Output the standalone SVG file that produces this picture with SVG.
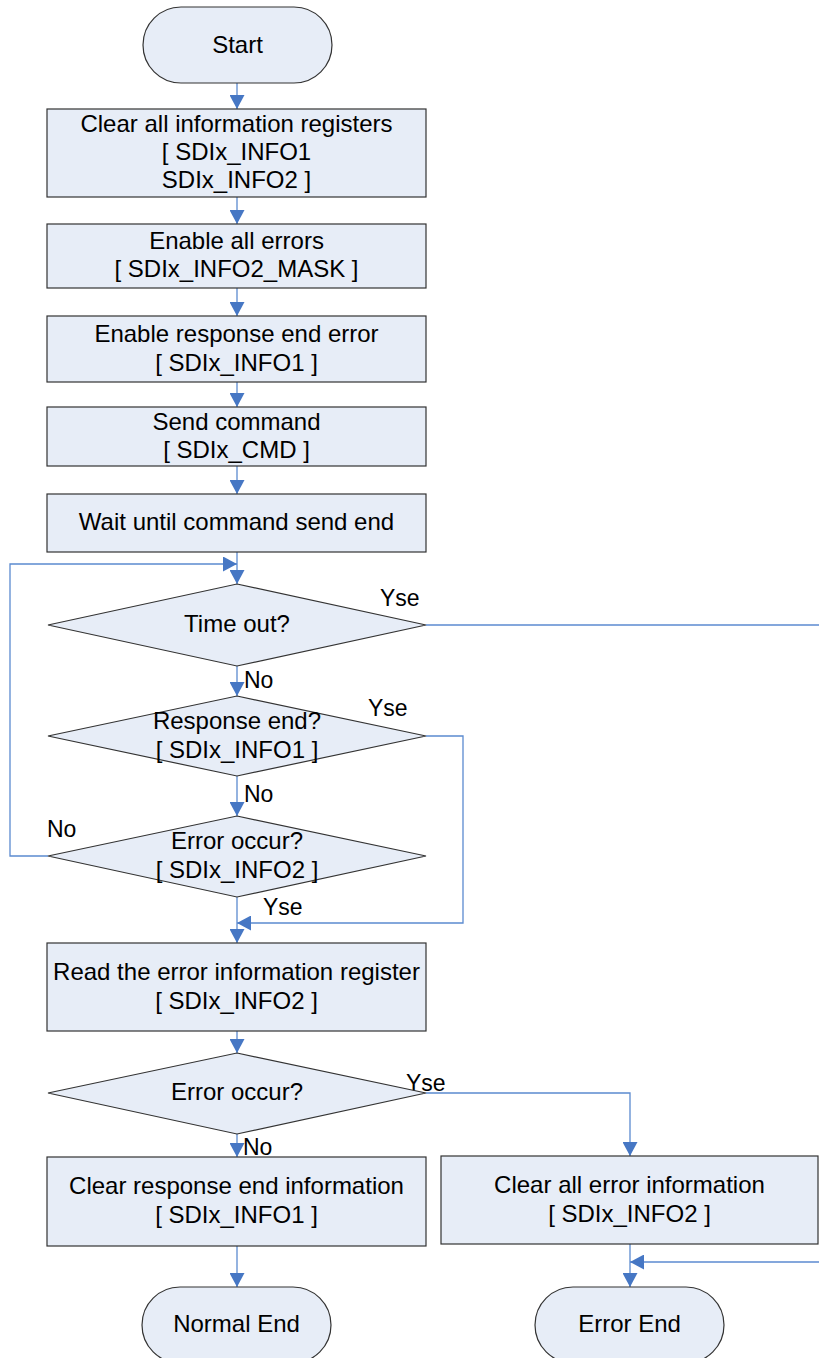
<svg xmlns="http://www.w3.org/2000/svg" width="819" height="1358" viewBox="0 0 819 1358">
  <style>
    .shape { fill: #E7EDF7; stroke: #333333; stroke-width: 1.2; }
    .txt { font-family: "Liberation Sans", Arial, sans-serif; font-size: 24px; fill: #000000; text-anchor: middle; }
    .lbl { font-family: "Liberation Sans", Arial, sans-serif; font-size: 23px; fill: #000000; }
    .conn { fill: none; stroke: #5B8AD0; stroke-width: 1.3; }
  </style>
  <defs>
    <marker id="arrow" markerUnits="userSpaceOnUse" markerWidth="15" markerHeight="15" refX="14" refY="7.5" orient="auto">
      <path d="M0,0 L14,7.5 L0,15 Z" fill="#4677C4"/>
    </marker>
  </defs>

  <rect width="819" height="1358" fill="#FFFFFF"/>

  <!-- connectors -->
  <g id="connectors">
    <path class="conn" d="M237,83 V109" marker-end="url(#arrow)"/>
    <path class="conn" d="M237,197 V224" marker-end="url(#arrow)"/>
    <path class="conn" d="M237,288 V316" marker-end="url(#arrow)"/>
    <path class="conn" d="M237,382 V407" marker-end="url(#arrow)"/>
    <path class="conn" d="M237,466 V494" marker-end="url(#arrow)"/>
    <path class="conn" d="M237,552 V584" marker-end="url(#arrow)"/>
    <path class="conn" d="M48,856 H10 V564 H237" marker-end="url(#arrow)"/>
    <path class="conn" d="M426,625 H819"/>
    <path class="conn" d="M237,666 V696" marker-end="url(#arrow)"/>
    <path class="conn" d="M237,776 V816" marker-end="url(#arrow)"/>
    <path class="conn" d="M426,736 H463 V923 H237" marker-end="url(#arrow)"/>
    <path class="conn" d="M237,897 V943" marker-end="url(#arrow)"/>
    <path class="conn" d="M237,1031 V1053" marker-end="url(#arrow)"/>
    <path class="conn" d="M237,1134 V1157" marker-end="url(#arrow)"/>
    <path class="conn" d="M426,1093 H630 V1156" marker-end="url(#arrow)"/>
    <path class="conn" d="M237,1246 V1287" marker-end="url(#arrow)"/>
    <path class="conn" d="M630,1244 V1287" marker-end="url(#arrow)"/>
    <path class="conn" d="M819,1262 H630" marker-end="url(#arrow)"/>
  </g>

  <!-- branch labels -->
  <g id="labels">
    <text class="lbl" x="380" y="606">Yse</text>
    <text class="lbl" x="244" y="688">No</text>
    <text class="lbl" x="368" y="716">Yse</text>
    <text class="lbl" x="244" y="802">No</text>
    <text class="lbl" x="47" y="837">No</text>
    <text class="lbl" x="263" y="915">Yse</text>
    <text class="lbl" x="406" y="1091">Yse</text>
    <text class="lbl" x="243" y="1155">No</text>
  </g>

  <g id="start">
    <rect class="shape" x="143" y="7" width="189" height="76" rx="38" ry="38"/>
    <text class="txt" x="237.5" y="53">Start</text>
  </g>

  <g id="clear-info">
    <rect class="shape" x="47" y="109" width="379" height="88"/>
    <text class="txt" x="236.5" y="132">Clear all information registers</text>
    <text class="txt" x="236.5" y="160">[ SDIx_INFO1</text>
    <text class="txt" x="236.5" y="188">SDIx_INFO2 ]</text>
  </g>

  <g id="enable-errors">
    <rect class="shape" x="47" y="224" width="379" height="64"/>
    <text class="txt" x="236.5" y="249">Enable all errors</text>
    <text class="txt" x="236.5" y="277">[ SDIx_INFO2_MASK ]</text>
  </g>

  <g id="enable-resp-end">
    <rect class="shape" x="47" y="316" width="379" height="66"/>
    <text class="txt" x="236.5" y="342">Enable response end error</text>
    <text class="txt" x="236.5" y="371">[ SDIx_INFO1 ]</text>
  </g>

  <g id="send-cmd">
    <rect class="shape" x="47" y="407" width="379" height="59"/>
    <text class="txt" x="236.5" y="430">Send command</text>
    <text class="txt" x="236.5" y="458">[ SDIx_CMD ]</text>
  </g>

  <g id="wait-send">
    <rect class="shape" x="47" y="494" width="379" height="58"/>
    <text class="txt" x="236.5" y="530">Wait until command send end</text>
  </g>

  <g id="timeout">
    <polygon class="shape" points="237,584 426,625 237,666 48,625"/>
    <text class="txt" x="237" y="632">Time out?</text>
  </g>

  <g id="resp-end">
    <polygon class="shape" points="237,696 426,736 237,776 48,736"/>
    <text class="txt" x="237" y="729">Response end?</text>
    <text class="txt" x="237" y="758">[ SDIx_INFO1 ]</text>
  </g>

  <g id="error-occur-1">
    <polygon class="shape" points="237,816 426,856 237,897 48,856"/>
    <text class="txt" x="237" y="849">Error occur?</text>
    <text class="txt" x="237" y="878">[ SDIx_INFO2 ]</text>
  </g>

  <g id="read-error">
    <rect class="shape" x="47" y="943" width="379" height="88"/>
    <text class="txt" x="236.5" y="980">Read the error information register</text>
    <text class="txt" x="236.5" y="1009">[ SDIx_INFO2 ]</text>
  </g>

  <g id="error-occur-2">
    <polygon class="shape" points="237,1053 426,1093 237,1134 48,1093"/>
    <text class="txt" x="237" y="1100">Error occur?</text>
  </g>

  <g id="clear-resp-end">
    <rect class="shape" x="47" y="1157" width="379" height="89"/>
    <text class="txt" x="236.5" y="1194">Clear response end information</text>
    <text class="txt" x="236.5" y="1223">[ SDIx_INFO1 ]</text>
  </g>

  <g id="clear-errors">
    <rect class="shape" x="441" y="1156" width="377" height="88"/>
    <text class="txt" x="629.5" y="1193">Clear all error information</text>
    <text class="txt" x="629.5" y="1222">[ SDIx_INFO2 ]</text>
  </g>

  <g id="normal-end">
    <rect class="shape" x="142" y="1287" width="189" height="76" rx="38" ry="38"/>
    <text class="txt" x="236.5" y="1332">Normal End</text>
  </g>

  <g id="error-end">
    <rect class="shape" x="535" y="1287" width="189" height="76" rx="38" ry="38"/>
    <text class="txt" x="629.5" y="1332">Error End</text>
  </g>
</svg>
